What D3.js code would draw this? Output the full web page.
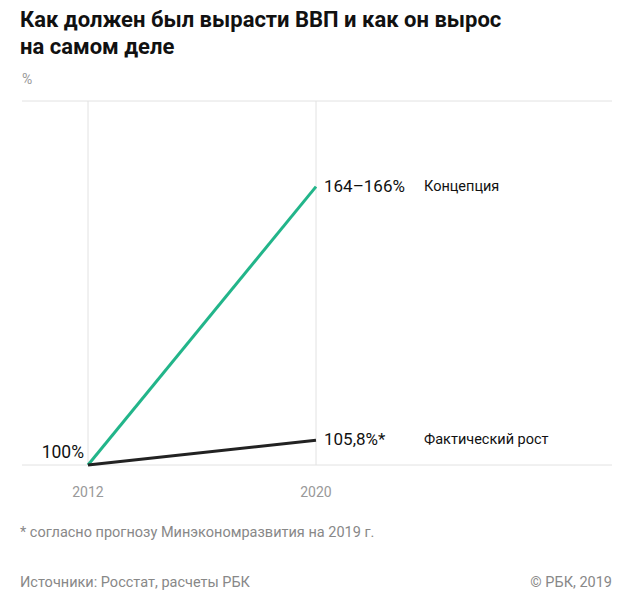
<!DOCTYPE html><html><head><meta charset="utf-8">
<script src="https://d3js.org/d3.v7.min.js"></script>
<style>body{margin:0;background:#fff}</style></head><body><svg id="c" width="640" height="599"></svg>
<script>
const years=[2012,2020];
const seriesNames=["Концепция","Фактический рост"];
const concept=[100,165];
const actual=[100,105.8];
const endLabels=["164–166%","105,8%*"];
const startLabel="100%";
const svg=d3.select("#c");
const F="Roboto, 'Open Sans', sans-serif";
const x=d3.scaleLinear().domain([2012,2020]).range([88,316]);
const y=d3.scaleLinear().domain([100,185]).range([465,101]);
svg.append("text").attr("x",20).attr("y",27).attr("font-family",F).attr("font-weight",700).attr("font-size",22).attr("fill","#111").text("Как должен был вырасти ВВП и как он вырос");
svg.append("text").attr("x",20).attr("y",54).attr("font-family",F).attr("font-weight",700).attr("font-size",22).attr("fill","#111").text("на самом деле");
svg.append("text").attr("x",22).attr("y",84).attr("font-family",F).attr("font-size",14).attr("fill","#999").text("%");
svg.append("line").attr("x1",22).attr("x2",612).attr("y1",y(185)).attr("y2",y(185)).attr("stroke","#e2e2e2");
svg.append("line").attr("x1",22).attr("x2",612).attr("y1",y(100)).attr("y2",y(100)).attr("stroke","#e2e2e2");
years.forEach(v=>{svg.append("line").attr("x1",x(v)).attr("x2",x(v)).attr("y1",y(185)).attr("y2",y(100)).attr("stroke","#e2e2e2");
svg.append("text").attr("x",x(v)).attr("y",497).attr("text-anchor","middle").attr("font-family",F).attr("font-size",14).attr("fill","#999").text(v);});
const line=d3.line().x((d,i)=>x(years[i])).y(d=>y(d));
svg.append("path").attr("d",line(concept)).attr("fill","none").attr("stroke","#22b58a").attr("stroke-width",3);
svg.append("path").attr("d",line(actual)).attr("fill","none").attr("stroke","#222").attr("stroke-width",3);
svg.append("text").attr("x",x(2012)-4).attr("y",y(100)-7).attr("text-anchor","end").attr("font-family",F).attr("font-size",17.5).attr("fill","#111").text(startLabel);
[concept,actual].forEach((s,i)=>{
svg.append("text").attr("x",x(2020)+8).attr("y",y(s[1])+5).attr("font-family",F).attr("font-size",17).attr("fill","#111").text(endLabels[i]);
svg.append("text").attr("x",424).attr("y",y(s[1])+4).attr("font-family",F).attr("font-size",14.5).attr("fill","#111").text(seriesNames[i]);});
svg.append("text").attr("x",20).attr("y",537).attr("font-family",F).attr("font-size",14.5).attr("fill","#888").text("* согласно прогнозу Минэкономразвития на 2019 г.");
svg.append("text").attr("x",20).attr("y",587).attr("font-family",F).attr("font-size",14.5).attr("fill","#888").text("Источники: Росстат, расчеты РБК");
svg.append("text").attr("x",612).attr("y",587).attr("text-anchor","end").attr("font-family",F).attr("font-size",14.5).attr("fill","#888").text("© РБК, 2019");
</script></body></html>
